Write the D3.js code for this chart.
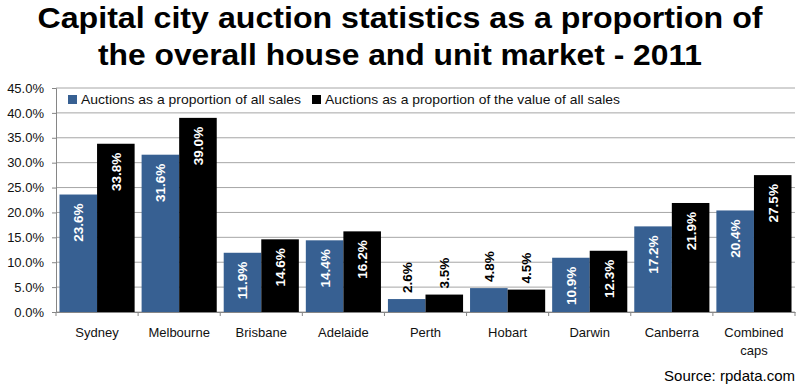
<!DOCTYPE html>
<html>
<head>
<meta charset="utf-8">
<script src="https://cdn.jsdelivr.net/npm/d3@7"></script>
<style>
  body { margin: 0; background: #fff; }
  svg { display: block; font-family: "Liberation Sans", Arial, sans-serif; }
</style>
</head>
<body>
<div id="chart"></div>
<script>
// Chart data
const cities = ['Sydney', 'Melbourne', 'Brisbane', 'Adelaide', 'Perth', 'Hobart', 'Darwin', 'Canberra', 'Combined caps'];
const shareOfSales = [23.6, 31.6, 11.9, 14.4, 2.6, 4.8, 10.9, 17.2, 20.4];
const shareOfValue = [33.8, 39.0, 14.6, 16.2, 3.5, 4.5, 12.3, 21.9, 27.5];
const seriesNames = ['Auctions as a proportion of all sales', 'Auctions as a proportion of the value of all sales'];
const yTicks = [0, 5, 10, 15, 20, 25, 30, 35, 40, 45];

const width = 800, height = 387;
const colors = ['#376092', '#000000'];

const svg = d3.select("#chart")
    .append("svg")
    .attr("width", width)
    .attr("height", height);

// Title, stretched to the width it has in the original
const titleLines = [
    { text: "Capital city auction statistics as a proportion of", y: 28, len: 725 },
    { text: "the overall house and unit market - 2011", y: 65, len: 604 }
];
svg.append("g")
    .selectAll("text")
    .data(titleLines)
    .enter()
    .append("text")
    .attr("x", 400)
    .attr("y", d => d.y)
    .attr("text-anchor", "middle")
    .attr("textLength", d => d.len)
    .attr("lengthAdjust", "spacingAndGlyphs")
    .style("font-weight", "bold")
    .style("font-size", "30px")
    .attr("fill", "#000")
    .text(d => d.text);

// Scales
const x = d3.scaleBand()
    .domain(cities)
    .range([56, 795])
    .paddingInner(0.085)
    .paddingOuter(0.0425);

const xSub = d3.scaleBand()
    .domain([0, 1])
    .range([0, x.bandwidth()]);

const y = d3.scaleLinear()
    .domain([0, 45])
    .range([312, 88]);

// Gridlines
svg.append("g")
    .selectAll("line")
    .data(yTicks)
    .enter()
    .append("line")
    .attr("x1", 56)
    .attr("x2", 795)
    .attr("y1", d => y(d))
    .attr("y2", d => y(d))
    .attr("stroke", "#a6a6a6")
    .attr("stroke-width", 1);

// Y axis
const yAxis = svg.append("g")
    .attr("transform", "translate(56,0)")
    .call(d3.axisLeft(y).tickValues(yTicks).tickSize(4).tickFormat(d => d.toFixed(1) + "%"));
yAxis.select(".domain").attr("stroke", "#868686");
yAxis.selectAll(".tick line").attr("stroke", "#868686");
yAxis.selectAll("text")
    .attr("x", -12)
    .style("font-size", "13px")
    .attr("fill", "#111");

// X axis
const xAxis = svg.append("g")
    .attr("transform", "translate(0,312)")
    .call(d3.axisBottom(x).tickSize(0).tickFormat(""));
xAxis.select(".domain").attr("stroke", "#868686");

// category boundary ticks
const step = x.step();
svg.append("g")
    .selectAll("line")
    .data(d3.range(cities.length + 1))
    .enter()
    .append("line")
    .attr("x1", i => 56 + i * step)
    .attr("x2", i => 56 + i * step)
    .attr("y1", 312)
    .attr("y2", 316)
    .attr("stroke", "#868686");

// category labels
svg.append("g")
    .selectAll("text")
    .data(cities)
    .enter()
    .append("text")
    .attr("text-anchor", "middle")
    .style("font-size", "13px")
    .attr("fill", "#111")
    .each(function (d) {
        const t = d3.select(this);
        const cx = x(d) + x.bandwidth() / 2;
        const words = d === 'Combined caps' ? ['Combined', 'caps'] : [d];
        words.forEach((w, i) => {
            t.append("tspan").attr("x", cx).attr("y", 337 + i * 18).text(w);
        });
    });

// Bars
const rows = cities.map((c, i) => ({ city: c, values: [shareOfSales[i], shareOfValue[i]] }));

const groups = svg.append("g")
    .selectAll("g")
    .data(rows)
    .enter()
    .append("g")
    .attr("transform", d => "translate(" + x(d.city) + ",0)");

groups.selectAll("rect")
    .data(d => d.values.map((v, s) => ({ v: v, s: s })))
    .enter()
    .append("rect")
    .attr("x", d => xSub(d.s))
    .attr("width", xSub.bandwidth())
    .attr("y", d => y(d.v))
    .attr("height", d => y(0) - y(d.v))
    .attr("fill", d => colors[d.s]);

// Bar labels, rotated
groups.selectAll("text")
    .data(d => d.values.map((v, s) => ({ v: v, s: s })))
    .enter()
    .append("text")
    .each(function (d) {
        const inside = y(0) - y(d.v) > 45;
        const cx = xSub(d.s) + xSub.bandwidth() / 2;
        const top = y(d.v);
        d3.select(this)
            .attr("transform", "translate(" + (cx + 5) + "," + (inside ? top + 9 : top - 6) + ") rotate(-90)")
            .attr("text-anchor", inside ? "end" : "start")
            .attr("fill", inside ? "#fff" : "#000");
    })
    .style("font-size", "13.5px")
    .style("font-weight", "bold")
    .text(d => d.v.toFixed(1) + "%");

// Legend
const legend = svg.append("g");
const legendX = [68, 312];
const legendLen = [220, 295];
seriesNames.forEach((name, i) => {
    legend.append("rect")
        .attr("x", legendX[i])
        .attr("y", 95)
        .attr("width", 9)
        .attr("height", 9)
        .attr("fill", colors[i]);
    legend.append("text")
        .attr("x", legendX[i] + 13)
        .attr("y", 104)
        .attr("textLength", legendLen[i])
        .attr("lengthAdjust", "spacingAndGlyphs")
        .style("font-size", "13.5px")
        .attr("fill", "#111")
        .text(name);
});

// Source
svg.append("text")
    .attr("x", 795)
    .attr("y", 381)
    .attr("text-anchor", "end")
    .style("font-size", "15px")
    .attr("fill", "#000")
    .text("Source: rpdata.com");
</script>
</body>
</html>
